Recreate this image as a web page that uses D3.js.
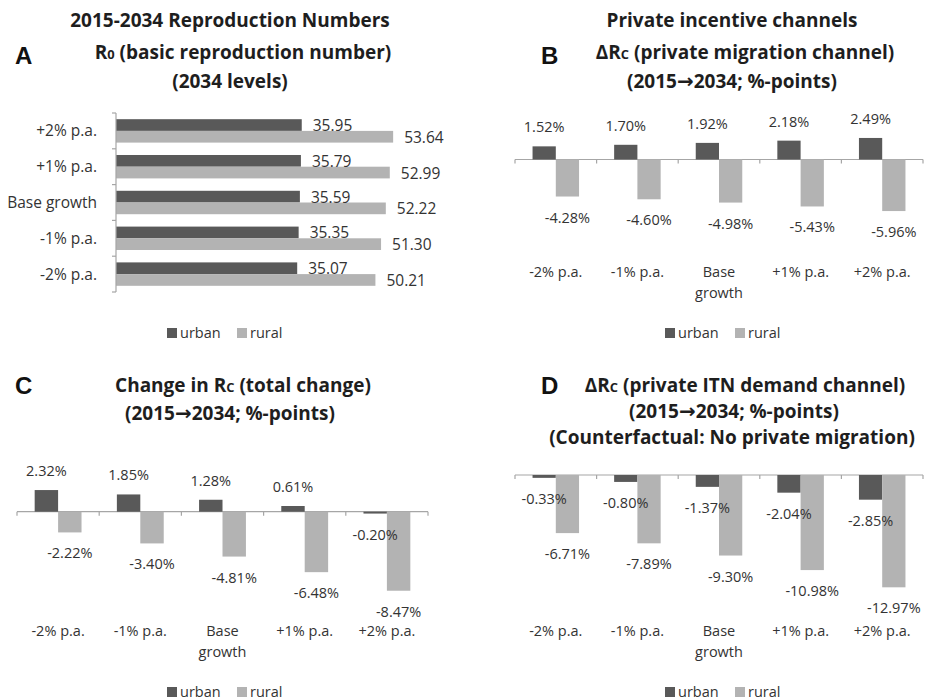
<!DOCTYPE html>
<html>
<head>
<title>Reproduction Numbers</title>
<style>
body { margin: 0; background: #fff; }
</style>
</head>
<body>

<div id="chart"></div>

<script src="https://d3js.org/d3.v7.min.js"></script>
<script>
const width = 925;
const height = 700;

// Data
const scenarios = ["-2% p.a.", "-1% p.a.", "Base growth", "+1% p.a.", "+2% p.a."];
const seriesNames = ["urban", "rural"];

const r0Urban = [35.07, 35.35, 35.59, 35.79, 35.95];
const r0Rural = [50.21, 51.30, 52.22, 52.99, 53.64];

const migUrban = [1.52, 1.70, 1.92, 2.18, 2.49];
const migRural = [-4.28, -4.60, -4.98, -5.43, -5.96];

const totalUrban = [2.32, 1.85, 1.28, 0.61, -0.20];
const totalRural = [-2.22, -3.40, -4.81, -6.48, -8.47];

const itnUrban = [-0.33, -0.80, -1.37, -2.04, -2.85];
const itnRural = [-6.71, -7.89, -9.30, -10.98, -12.97];

const colors = { urban: "#595959", rural: "#b3b3b3" };
const axisColor = "#a6a6a6";
const textColor = "#333";
const font = "'Open Sans', sans-serif";
const fs = 14.5;
const titleSize = 19;

const svg = d3.select("#chart")
  .append("svg")
  .attr("width", width)
  .attr("height", height);

svg.append("rect")
  .attr("width", width)
  .attr("height", height)
  .attr("fill", "#fff");

// Title helper: parts are [text, kind]; kind "sub" = small letter, "arrow" = bold arrow
function title(cx, y, parts) {
  const t = svg.append("text")
    .attr("x", cx)
    .attr("y", y)
    .attr("text-anchor", "middle")
    .attr("font-family", font)
    .attr("font-weight", "bold")
    .attr("font-size", titleSize)
    .attr("fill", "#1e1e1e");
  parts.forEach(p => {
    const s = t.append("tspan").text(p[0]);
    if (p[1] === "sub") s.attr("font-size", titleSize * 0.68);
    if (p[1] === "arrow") s.attr("font-family", "'DejaVu Sans', sans-serif").attr("font-size", titleSize * 1.05);
  });
}

function range2015(cx, y) {
  title(cx, y, [["(2015"], ["\u2192", "arrow"], ["2034; %-points)"]]);
}

function panelLetter(x, y, letter) {
  svg.append("text")
    .attr("x", x)
    .attr("y", y)
    .attr("font-family", "'Liberation Sans', Arial, sans-serif")
    .attr("font-weight", "bold")
    .attr("font-size", 24)
    .attr("fill", "#111")
    .text(letter);
}

function legend(x, y) {
  const g = svg.append("g").attr("transform", `translate(${x},${y})`);
  const offs = [0, 70];
  seriesNames.forEach((s, i) => {
    g.append("rect")
      .attr("x", offs[i])
      .attr("y", -5)
      .attr("width", 10)
      .attr("height", 10)
      .attr("fill", colors[s]);
    g.append("text")
      .attr("x", offs[i] + 13)
      .attr("y", 5)
      .attr("font-family", font)
      .attr("font-size", fs)
      .attr("fill", textColor)
      .text(s);
  });
}

// ---------- Panel A (horizontal bars) ----------
function panelA() {
  const fsA = 15.5;
  const cats = scenarios.slice().reverse();
  const rows = cats.map(c => {
    const i = scenarios.indexOf(c);
    return { cat: c, urban: r0Urban[i], rural: r0Rural[i] };
  });

  const x = d3.scaleLinear().domain([0, 60]).range([116, 426]);
  const y = d3.scaleBand().domain(cats).range([113, 292])
    .paddingInner(0.346).paddingOuter(0.173);
  const y1 = d3.scaleBand().domain(seriesNames).range([0, y.bandwidth()]);

  const g = svg.append("g");

  rows.forEach(r => {
    seriesNames.forEach(s => {
      g.append("rect")
        .attr("x", x(0))
        .attr("y", y(r.cat) + y1(s))
        .attr("width", x(r[s]) - x(0))
        .attr("height", y1.bandwidth())
        .attr("fill", colors[s]);
    });
  });

  rows.forEach(r => {
    seriesNames.forEach(s => {
      const by = y(r.cat) + y1(s);
      g.append("text")
        .attr("x", x(r[s]) + 11)
        .attr("y", by + y1.bandwidth() / 2 + 6)
        .attr("font-family", font)
        .attr("font-size", fsA)
        .attr("fill", textColor)
        .text(r[s].toFixed(2));
    });
    g.append("text")
      .attr("x", 97)
      .attr("y", y(r.cat) + y.bandwidth() / 2 + 5.5)
      .attr("text-anchor", "end")
      .attr("font-family", font)
      .attr("font-size", fsA)
      .attr("fill", textColor)
      .text(r.cat);
  });

  // axis line with ticks between categories
  const step = y.step();
  const y0 = y.range()[0];
  g.append("line")
    .attr("x1", x(0)).attr("x2", x(0))
    .attr("y1", y0).attr("y2", y0 + step * cats.length)
    .attr("stroke", axisColor).attr("stroke-width", 1.2);
  d3.range(cats.length + 1).forEach(k => {
    g.append("line")
      .attr("x1", x(0) - 4).attr("x2", x(0))
      .attr("y1", y0 + k * step).attr("y2", y0 + k * step)
      .attr("stroke", axisColor).attr("stroke-width", 1.2);
  });
}

// ---------- Vertical grouped bars (B, C, D) ----------
function panelV(cfg) {
  const rows = scenarios.map((c, i) => ({ cat: c, urban: cfg.urban[i], rural: cfg.rural[i] }));

  const x = d3.scaleBand().domain(scenarios).range(cfg.xRange)
    .paddingInner(0.43).paddingOuter(0.215);
  const x1 = d3.scaleBand().domain(seriesNames).range([0, x.bandwidth()]);
  const y = d3.scaleLinear().domain(cfg.domain).range(cfg.yRange);

  const g = svg.append("g");

  // zero axis with ticks between categories
  const step = x.step();
  const x0 = x.range()[0];
  g.append("line")
    .attr("x1", x0).attr("x2", x0 + step * scenarios.length)
    .attr("y1", y(0)).attr("y2", y(0))
    .attr("stroke", axisColor).attr("stroke-width", 1.2);
  d3.range(scenarios.length + 1).forEach(k => {
    g.append("line")
      .attr("x1", x0 + k * step).attr("x2", x0 + k * step)
      .attr("y1", y(0)).attr("y2", y(0) + 4)
      .attr("stroke", axisColor).attr("stroke-width", 1.2);
  });

  // bars first, labels on top
  rows.forEach(r => {
    seriesNames.forEach(s => {
      const v = r[s];
      g.append("rect")
        .attr("x", x(r.cat) + x1(s))
        .attr("y", Math.min(y(v), y(0)))
        .attr("width", x1.bandwidth())
        .attr("height", Math.abs(y(v) - y(0)))
        .attr("fill", colors[s]);
    });
  });

  rows.forEach(r => {
    seriesNames.forEach(s => {
      const v = r[s];
      g.append("text")
        .attr("x", x(r.cat) + x1(s) + x1.bandwidth() / 2)
        .attr("y", v >= 0 ? y(v) - 14 : y(v) + 26)
        .attr("text-anchor", "middle")
        .attr("font-family", font)
        .attr("font-size", fs)
        .attr("fill", textColor)
        .text(v.toFixed(2) + "%");
    });

    const words = r.cat === "Base growth" ? ["Base", "growth"] : [r.cat];
    const cx = x(r.cat) + x.bandwidth() / 2;
    const t = g.append("text")
      .attr("x", cx)
      .attr("y", cfg.catY)
      .attr("text-anchor", "middle")
      .attr("font-family", font)
      .attr("font-size", fs)
      .attr("fill", textColor);
    words.forEach((w, k) => {
      t.append("tspan")
        .attr("x", cx)
        .attr("dy", k === 0 ? 0 : 21)
        .text(w);
    });
  });
}

// Panel A
title(230, 27, [["2015-2034 Reproduction Numbers"]]);
panelLetter(15, 64, "A");
title(243, 59, [["R"], ["0", "sub"], [" (basic reproduction number)"]]);
title(230, 88, [["(2034 levels)"]]);
panelA();
legend(167, 333);

// Panel B
title(732, 27, [["Private incentive channels"]]);
panelLetter(541, 64, "B");
title(745, 59, [["\u0394R"], ["C", "sub"], [" (private migration channel)"]]);
range2015(732, 88);
panelV({
  urban: migUrban, rural: migRural,
  xRange: [515, 923], domain: [-7, 3],
  yRange: [159.5 + 7 * 8.65, 159.5 - 3 * 8.65],
  catY: 277
});
legend(665, 333);

// Panel C
panelLetter(15, 394, "C");
title(243, 392, [["Change in R"], ["C", "sub"], [" (total change)"]]);
range2015(230, 420);
panelV({
  urban: totalUrban, rural: totalRural,
  xRange: [17, 428], domain: [-10, 3],
  yRange: [511.7 + 10 * 9.33, 511.7 - 3 * 9.33],
  catY: 636
});
legend(167, 692);

// Panel D
panelLetter(541, 394, "D");
title(745, 392, [["\u0394R"], ["C", "sub"], [" (private ITN demand channel)"]]);
range2015(734, 418);
title(732, 444, [["(Counterfactual: No private migration)"]]);
panelV({
  urban: itnUrban, rural: itnRural,
  xRange: [515, 923], domain: [-14, 0],
  yRange: [475 + 14 * 8.66, 475],
  catY: 636
});
legend(665, 692);
</script>

</body>
</html>
